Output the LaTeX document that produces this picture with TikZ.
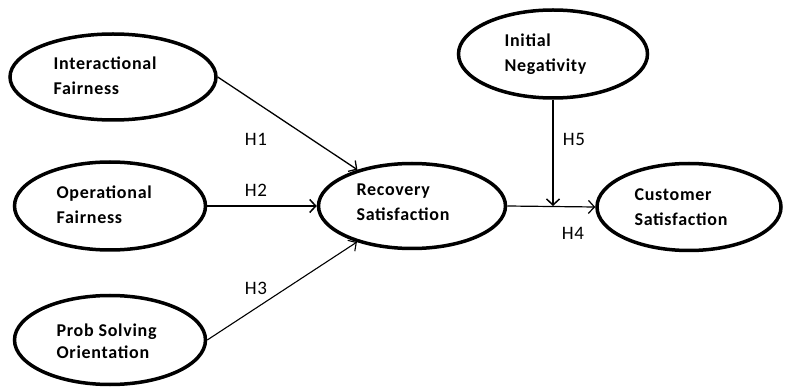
\documentclass[tikz,border=0pt]{standalone}
\usepackage{fontspec}
\setmainfont{Carlito}
\newfontfamily\varfont[LetterSpace=4]{Carlito}
\usetikzlibrary{shapes.geometric, arrows.meta}

\begin{document}
\begin{tikzpicture}[x=1pt, y=-1pt,
  var/.style={draw, ellipse, line width=3.5pt, inner sep=0pt},
  lbl/.style={anchor=west, align=left, font=\varfont\bfseries\fontsize{18}{25}\selectfont},
  hyp/.style={font=\varfont\fontsize{19}{20}\selectfont},
  link/.style={-{Straight Barb[length=6pt,width=13pt]}, line width=1.5pt}]
\useasboundingbox (0,0) rectangle (787,387);

% constructs
\node[var, minimum width=206pt, minimum height=86pt] (if) at (113,77) {};
\node[lbl] (if-t) at (50,76) {Interactional\\Fairness};
\node[var, minimum width=191pt, minimum height=88pt] (of) at (110,206) {};
\node[lbl] (of-t) at (53,205) {Operational\\Fairness};
\node[var, minimum width=191pt, minimum height=89pt] (pso) at (110,340) {};
\node[lbl, font=\varfont\bfseries\fontsize{18}{22}\selectfont] (pso-t) at (53,341) {Prob Solving\\Orientation};
\node[var, minimum width=187pt, minimum height=85pt] (rs) at (412,206) {};
\node[lbl] (rs-t) at (353,202) {Recovery\\Satisfaction};
\node[var, minimum width=189pt, minimum height=88pt] (in) at (553,54) {};
\node[lbl] (in-t) at (501,54) {Initial\\Negativity};
\node[var, minimum width=184pt, minimum height=87pt] (cs) at (689,207) {};
\node[lbl] (cs-t) at (631,207) {Customer\\Satisfaction};

% paths
\draw[link, line width=1.3pt] (if.east) -- (rs);
\draw[link] (of.east) -- (rs.west);
\draw[link, line width=1.1pt] (pso.east) -- (rs);
\draw[link, line width=1.2pt] (rs.east) -- (cs.west);
\coordinate (mod) at (in.south |- rs.east);
\draw[link] (in.south) -- (mod);

% hypotheses
\node[hyp] (h1) at (256,139) {H1};
\node[hyp] (h2) at (256,190) {H2};
\node[hyp] (h3) at (256,288) {H3};
\node[hyp] (h4) at (573,233) {H4};
\node[hyp] (h5) at (574,139) {H5};
\end{tikzpicture}
\end{document}
